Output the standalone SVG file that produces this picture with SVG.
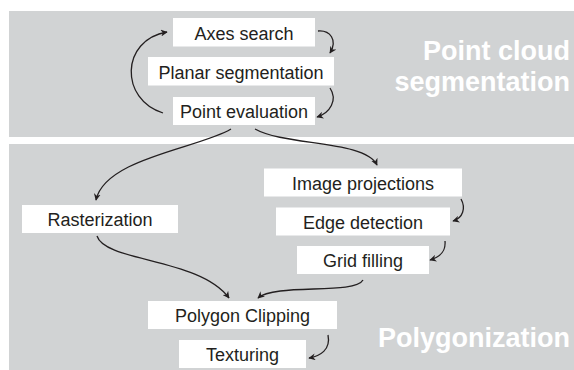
<svg xmlns="http://www.w3.org/2000/svg" width="574" height="370" viewBox="0 0 574 370">
<style>
.panel{fill:#d1d3d4}
.box{fill:#ffffff}
.lbl{font-family:"Liberation Sans",Arial,sans-serif;font-size:18px;fill:#231f20;text-anchor:middle}
.title{font-family:"Liberation Sans",Arial,sans-serif;font-size:27px;font-weight:bold;fill:#ffffff;text-anchor:end}
.edge{fill:none;stroke:#231f20;stroke-width:1.3;marker-end:url(#ah)}
</style>
<defs>
<marker id="ah" viewBox="0 0 10 10" refX="9" refY="5" markerWidth="7" markerHeight="7" markerUnits="userSpaceOnUse" orient="auto">
<path d="M0,0 L10,5 L0,10 L3,5 z" fill="#231f20"/>
</marker>
</defs>
<g id="panels">
<rect class="panel" x="9" y="11" width="565" height="126"/>
<rect class="panel" x="9" y="144" width="565" height="226"/>
<text class="title" x="570" y="59.5">Point cloud</text>
<text class="title" x="570" y="91">segmentation</text>
<text class="title" x="570" y="347">Polygonization</text>
</g>
<g id="axes-search"><rect class="box" x="173" y="18" width="142" height="28.5"/><text class="lbl" x="244" y="39.5">Axes search</text></g>
<g id="planar-segmentation"><rect class="box" x="148" y="57" width="186" height="28.5"/><text class="lbl" x="241" y="78.5">Planar segmentation</text></g>
<g id="point-evaluation"><rect class="box" x="173" y="97" width="142" height="28"/><text class="lbl" x="244" y="118">Point evaluation</text></g>
<g id="image-projections"><rect class="box" x="264" y="168.5" width="198" height="28"/><text class="lbl" x="363" y="189.5">Image projections</text></g>
<g id="edge-detection"><rect class="box" x="276" y="207.5" width="174" height="28"/><text class="lbl" x="363" y="228.5">Edge detection</text></g>
<g id="grid-filling"><rect class="box" x="297" y="246" width="132" height="28"/><text class="lbl" x="363" y="267">Grid filling</text></g>
<g id="rasterization"><rect class="box" x="22" y="205" width="156" height="28"/><text class="lbl" x="100" y="226">Rasterization</text></g>
<g id="polygon-clipping"><rect class="box" x="148" y="301" width="189" height="28"/><text class="lbl" x="242.5" y="322">Polygon Clipping</text></g>
<g id="texturing"><rect class="box" x="179" y="340" width="127" height="28"/><text class="lbl" x="242.5" y="361">Texturing</text></g>
<g id="connectors">
<path class="edge" d="M163,113 C120,100 120,40 167,32"/>
<path class="edge" d="M318,31 C330,30 338,40 330,53"/>
<path class="edge" d="M330,88 C338,100 330,113 317,117"/>
<path class="edge" d="M231,129 C200,148 105,158 96,200"/>
<path class="edge" d="M255,129 C285,146 365,140 377,165"/>
<path class="edge" d="M461,199 C466,208 463,218 453,221"/>
<path class="edge" d="M445,241 C446,252 440,257 430,260"/>
<path class="edge" d="M97,236 C105,262 200,258 229,298"/>
<path class="edge" d="M363,280 C355,295 275,283 258,298"/>
<path class="edge" d="M328,335 C331,350 320,356 309,358"/>
</g>
</svg>
